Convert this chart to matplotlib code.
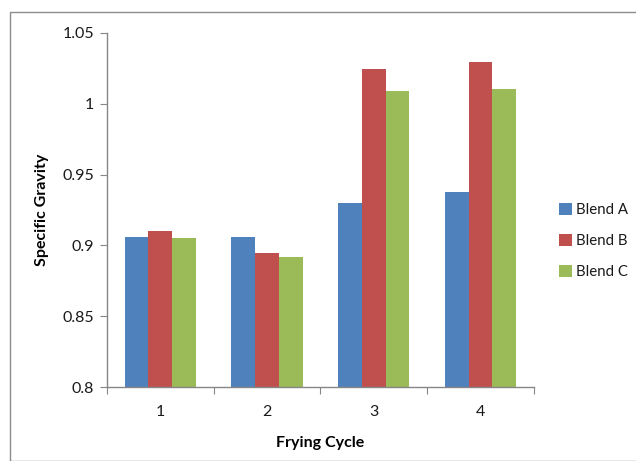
import matplotlib.pyplot as plt
from matplotlib.patches import Rectangle
import numpy as np

plt.rcParams['font.family'] = ['Lato', 'DejaVu Sans']

cycles = ['1', '2', '3', '4']
blend_a = [0.906, 0.906, 0.930, 0.9375]
blend_b = [0.910, 0.895, 1.0245, 1.0295]
blend_c = [0.905, 0.892, 1.009, 1.0105]
series = [('Blend A', blend_a, '#4F81BD'),
          ('Blend B', blend_b, '#C0504D'),
          ('Blend C', blend_c, '#9BBB59')]

W, H = 636, 461
fig = plt.figure(figsize=(W / 100, H / 100), dpi=100)

# chart frame (runs off the right and bottom edges)
fig.patches.append(Rectangle((9.5 / W, 0), 1, 1 - 12.5 / H, transform=fig.transFigure,
                             fill=False, edgecolor='#8C8C8C', linewidth=1.0))

ax = fig.add_axes([106.7 / W, 1 - 387.3 / H, (534 - 106.7) / W, (387.3 - 32.7) / H])

x = np.arange(len(cycles))
bw = 1 / 4.5
for i, (name, vals, col) in enumerate(series):
    ax.bar(x + (i - 1) * bw, vals, width=bw, color=col, label=name, zorder=2)

ax.set_xlim(-0.5, len(cycles) - 0.5)
ax.set_ylim(0.8, 1.05)
ax.set_yticks([0.8, 0.85, 0.9, 0.95, 1.0, 1.05])
ax.set_yticklabels(['0.8', '0.85', '0.9', '0.95', '1', '1.05'])
ax.set_xticks(np.arange(-0.5, len(cycles)), [''] * (len(cycles) + 1))
ax.set_xticks(x, cycles, minor=True)
ax.tick_params(axis='x', which='minor', length=0, pad=13)
ax.tick_params(axis='x', which='major', length=5, color='#868686')
ax.tick_params(axis='y', length=5, color='#868686', pad=4)
ax.tick_params(which='both', labelsize=11.5, labelcolor='#1a1a1a')

for s in ['top', 'right']:
    ax.spines[s].set_visible(False)
for s in ['left', 'bottom']:
    ax.spines[s].set_color('#868686')
    ax.spines[s].set_linewidth(1.0)

ax.set_xlabel('Frying Cycle', fontsize=11.5, fontweight='bold', labelpad=12)
ax.set_ylabel('Specific Gravity', fontsize=11.5, fontweight='bold', labelpad=10)

fig.legend(loc='center left', bbox_to_anchor=(553 / W, 1 - 241 / H), frameon=False,
           fontsize=10.8, handlelength=0.85, handleheight=0.85, handletextpad=0.3,
           labelspacing=1.1, borderaxespad=0, labelcolor='#1a1a1a')

fig.savefig('out.png', dpi=100)
